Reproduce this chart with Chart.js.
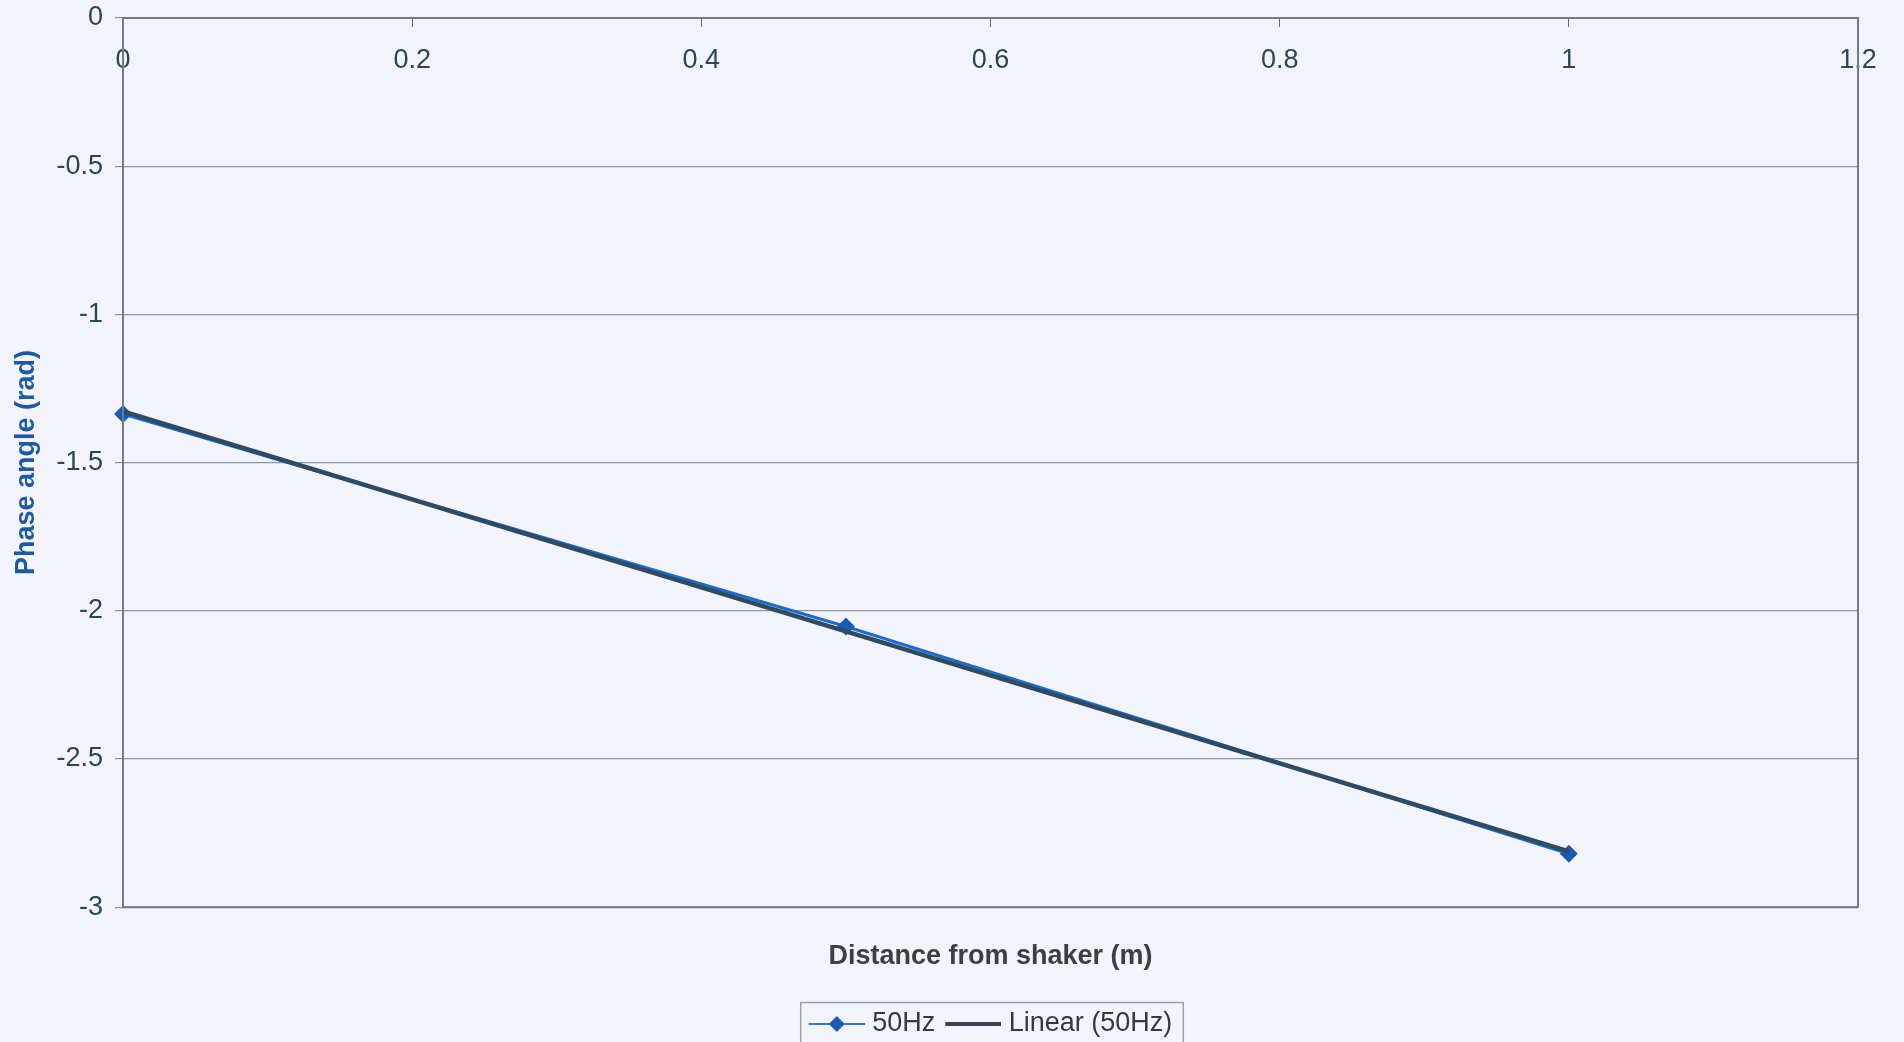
<!DOCTYPE html>
<html>
<head>
<meta charset="utf-8">
<title>Phase angle vs distance</title>
<script src="https://cdn.jsdelivr.net/npm/chart.js@4.4.1/dist/chart.umd.min.js"></script>
<style>
  html, body { margin: 0; padding: 0; background: #f3f4fb; }
  #wrap { width: 1904px; height: 1042px; }
</style>
</head>
<body>
<div id="wrap"><canvas id="phaseChart" width="1904" height="1042"></canvas></div>
<script>
// data
const distances = [0, 0.5, 1];
const phase50Hz = [-1.336, -2.053, -2.82];
const xTicks = [0, 0.2, 0.4, 0.6, 0.8, 1, 1.2];
const yTicks = [0, -0.5, -1, -1.5, -2, -2.5, -3];

// Excel-style linear trendline (least squares over the 50Hz points)
function linearFit(xs, ys) {
  const n = xs.length;
  const mx = xs.reduce((a, b) => a + b, 0) / n;
  const my = ys.reduce((a, b) => a + b, 0) / n;
  let sxy = 0, sxx = 0;
  for (let i = 0; i < n; i++) {
    sxy += (xs[i] - mx) * (ys[i] - my);
    sxx += (xs[i] - mx) * (xs[i] - mx);
  }
  const slope = sxy / sxx;
  return x => my + slope * (x - mx);
}
const fit = linearFit(distances, phase50Hz);
const trendX = [distances[0], distances[distances.length - 1]];

const FONT = 'Liberation Sans, Arial, sans-serif';
const LINE_BLUE = '#1f6cc6';
const TREND = '#2f4a63';
const AXIS = '#5d6f78';

// small canvases used as legend symbols (6px transparent lead-in on the left)
function legendSymbol(withMarker) {
  const c = document.createElement('canvas');
  c.width = 62; c.height = 18;
  const g = c.getContext('2d');
  g.strokeStyle = withMarker ? '#3c74c8' : '#3a4150';
  g.lineWidth = withMarker ? 2 : 4;
  g.beginPath(); g.moveTo(6, 9); g.lineTo(62, 9); g.stroke();
  if (withMarker) {
    g.fillStyle = '#1d5bb0';
    g.beginPath();
    g.moveTo(34, 1); g.lineTo(42, 9); g.lineTo(34, 17); g.lineTo(26, 9);
    g.closePath(); g.fill();
  }
  return c;
}

// grey frame round the plot and round the legend
const framePlugin = {
  id: 'frames',
  afterDraw(chart) {
    const { ctx, chartArea: a } = chart;
    ctx.save();
    ctx.strokeStyle = '#6f7c80';
    ctx.lineWidth = 2;
    ctx.strokeRect(a.left, a.top, a.right - a.left, a.bottom - a.top);
    const boxes = chart.legend.legendHitBoxes;
    if (boxes && boxes.length) {
      const l = Math.min(...boxes.map(b => b.left)) - 8;
      const r = Math.max(...boxes.map(b => b.left + b.width)) + 11;
      const t = Math.min(...boxes.map(b => b.top)) - 8;
      ctx.strokeStyle = '#9aa0a6';
      ctx.lineWidth = 1.5;
      ctx.strokeRect(l, t, r - l, 70);
    }
    ctx.restore();
  }
};

function drawPhaseChart() {
  const ctx = document.getElementById('phaseChart').getContext('2d');
  new Chart(ctx, {
    type: 'scatter',
    data: {
      datasets: [{
        label: '50Hz',
        data: distances.map((x, i) => ({ x: x, y: phase50Hz[i] })),
        showLine: true,
        clip: false,
        borderColor: LINE_BLUE,
        borderWidth: 3,
        pointStyle: 'rectRot',
        pointRadius: 9,
        pointBackgroundColor: '#1d5bb0',
        pointBorderWidth: 0,
        order: 2
      }, {
        label: 'Linear (50Hz)',
        data: trendX.map(x => ({ x: x, y: fit(x) })),
        showLine: true,
        borderColor: TREND,
        borderWidth: 4.5,
        pointRadius: 0,
        order: 1
      }]
    },
    plugins: [framePlugin],
    options: {
      responsive: false,
      animation: false,
      layout: { padding: { left: 0, top: 18, right: 46, bottom: -5.5 } },
      plugins: {
        tooltip: { enabled: false },
        legend: {
          position: 'bottom',
          fullSize: false,
          labels: {
            usePointStyle: true,
            pointStyleWidth: 50,
            color: '#333a40',
            font: { family: FONT, size: 27 },
            padding: 10,
            generateLabels: () => [
              { text: '50Hz', pointStyle: legendSymbol(true), fontColor: '#333a40', lineWidth: 0, strokeStyle: 'transparent', datasetIndex: 0 },
              { text: 'Linear (50Hz)', pointStyle: legendSymbol(false), fontColor: '#333a40', lineWidth: 0, strokeStyle: 'transparent', datasetIndex: 1 }
            ]
          }
        }
      },
      scales: {
        x: {
          type: 'linear',
          position: { y: 0 },
          min: 0, max: 1.2,
          afterBuildTicks: s => { s.ticks = xTicks.map(v => ({ value: v })); },
          ticks: {
            color: '#2c4656',
            font: { family: FONT, size: 27 },
            padding: 18,
            maxRotation: 0,
            callback: v => String(v)
          },
          grid: { drawOnChartArea: false, drawTicks: true, tickLength: 8, color: AXIS },
          border: { display: true, color: AXIS, width: 2 }
        },
        xTitle: {
          type: 'linear',
          position: 'bottom',
          axis: 'x',
          display: true,
          min: 0, max: 1.2,
          ticks: { display: false },
          grid: { display: false, drawTicks: false },
          border: { display: false },
          title: {
            display: true,
            text: 'Distance from shaker (m)',
            color: '#3a4045',
            font: { family: FONT, size: 27, weight: 'bold' },
            padding: { top: 33, bottom: 28 }
          }
        },
        y: {
          type: 'linear',
          position: 'left',
          min: -3, max: 0,
          afterBuildTicks: s => { s.ticks = yTicks.map(v => ({ value: v })); },
          afterFit: s => { s.width = 123; s.paddingTop = 0; s.paddingBottom = 0; },
          ticks: {
            color: '#2c4656',
            font: { family: FONT, size: 27 },
            padding: 12,
            callback: v => String(v)
          },
          grid: { color: '#8c9aa0', lineWidth: 1.2, tickLength: 8 },
          border: { display: true, color: AXIS, width: 2 },
          title: {
            display: true,
            text: 'Phase angle (rad)',
            color: '#1f5a9c',
            font: { family: FONT, size: 27, weight: 'bold' },
            padding: { top: 10, bottom: 0 }
          }
        }
      }
    }
  });
}

document.addEventListener('DOMContentLoaded', () => {
  drawPhaseChart();
});
</script>
</body>
</html>
